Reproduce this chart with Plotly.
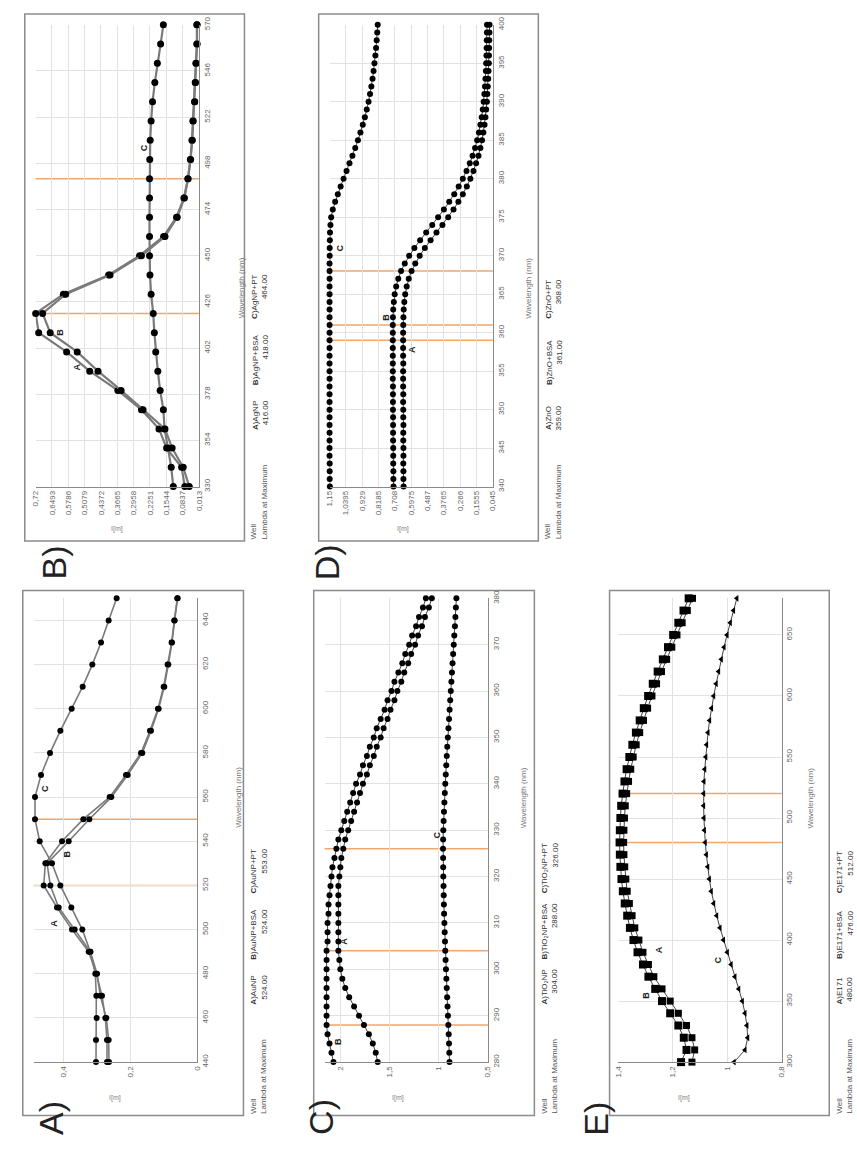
import plotly.graph_objects as go

W, H = 857, 1166

# ---------------- DATA ----------------
# Panel A : AuNP
wl_A = [440, 450, 460, 470, 480, 490, 500, 510, 520, 530, 540, 550, 560, 570, 580, 590, 600, 610, 620, 630, 640, 650]
A_AuNP = [0.270, 0.270, 0.275, 0.285, 0.302, 0.325, 0.375, 0.420, 0.460, 0.455, 0.405, 0.341, 0.262, 0.213, 0.168, 0.141, 0.117, 0.100, 0.088, 0.076, 0.068, 0.059]
B_AuNP_BSA = [0.264, 0.265, 0.272, 0.290, 0.300, 0.320, 0.367, 0.415, 0.440, 0.450, 0.385, 0.323, 0.257, 0.208, 0.164, 0.138, 0.115, 0.098, 0.086, 0.075, 0.067, 0.058]
C_AuNP_PT = [0.303, 0.303, 0.301, 0.302, 0.305, 0.320, 0.344, 0.377, 0.410, 0.435, 0.472, 0.486, 0.486, 0.468, 0.441, 0.410, 0.376, 0.343, 0.314, 0.288, 0.265, 0.241]
lines_A = [520, 550]
legend_A = ["<b>A</b>)AuNP<br>524.00", "<b>B</b>)AuNP+BSA<br>524.00", "<b>C</b>)AuNP+PT<br>553.00"]

# Panel B : AgNP
wl_B = [330, 340, 350, 360, 370, 380, 390, 400, 410, 420, 430, 440, 450, 460, 470, 480, 490, 500, 510, 520, 530, 540, 550, 560, 570]
A_AgNP = [0.074, 0.088, 0.153, 0.186, 0.262, 0.364, 0.486, 0.586, 0.707, 0.720, 0.600, 0.404, 0.270, 0.166, 0.110, 0.078, 0.061, 0.050, 0.043, 0.039, 0.032, 0.029, 0.026, 0.022, 0.022]
B_AgNP_BSA = [0.055, 0.081, 0.129, 0.160, 0.255, 0.350, 0.450, 0.540, 0.657, 0.690, 0.590, 0.398, 0.262, 0.160, 0.107, 0.076, 0.060, 0.049, 0.042, 0.038, 0.031, 0.028, 0.025, 0.021, 0.021]
C_AgNP_PT = [0.124, 0.133, 0.147, 0.162, 0.167, 0.181, 0.191, 0.200, 0.206, 0.211, 0.220, 0.225, 0.227, 0.227, 0.227, 0.227, 0.227, 0.226, 0.224, 0.220, 0.214, 0.204, 0.193, 0.179, 0.167]
lines_B = [420, 490]
legend_B = ["<b>A</b>)AgNP<br>416.00", "<b>B</b>)AgNP+BSA<br>418.00", "<b>C</b>)AgNP+PT<br>464.00"]

# Panel C : TiO2NP
wl_C = [280, 282, 284, 286, 288, 290, 292, 294, 296, 298, 300, 302, 304, 306, 308, 310, 312, 314, 316, 318, 320,
        322, 324, 326, 328, 330, 332, 334, 336, 338, 340, 342, 344, 346, 348, 350, 352, 354, 356, 358, 360,
        362, 364, 366, 368, 370, 372, 374, 376, 378, 380]
A_TiO2NP = [1.62, 1.64, 1.67, 1.71, 1.76, 1.81, 1.86, 1.91, 1.95, 1.98, 2.00, 2.01, 2.02, 2.02, 2.02, 2.02, 2.02, 2.02, 2.02, 2.02, 2.01,
            2.00, 1.99, 1.97, 1.95, 1.92, 1.89, 1.86, 1.83, 1.80, 1.77, 1.73, 1.70, 1.66, 1.63, 1.59, 1.56, 1.52, 1.49, 1.45, 1.42,
            1.38, 1.35, 1.31, 1.28, 1.24, 1.21, 1.17, 1.14, 1.10, 1.07]
B_TiO2NP_BSA = [2.07, 2.09, 2.11, 2.13, 2.14, 2.14, 2.14, 2.14, 2.14, 2.14, 2.14, 2.14, 2.14, 2.13, 2.13, 2.13, 2.12, 2.12, 2.11, 2.10, 2.09,
                2.08, 2.06, 2.04, 2.02, 1.99, 1.96, 1.93, 1.90, 1.87, 1.84, 1.80, 1.77, 1.73, 1.70, 1.66, 1.63, 1.59, 1.55, 1.52, 1.48,
                1.45, 1.41, 1.37, 1.34, 1.30, 1.27, 1.23, 1.20, 1.16, 1.13]
C_TiO2NP_PT = [0.890, 0.892, 0.895, 0.898, 0.902, 0.906, 0.910, 0.914, 0.918, 0.922, 0.926, 0.930, 0.933, 0.936, 0.939, 0.942, 0.945, 0.947, 0.949, 0.951, 0.953,
               0.954, 0.955, 0.956, 0.955, 0.953, 0.950, 0.946, 0.942, 0.938, 0.933, 0.928, 0.923, 0.918, 0.913, 0.907, 0.901, 0.895, 0.889, 0.883, 0.877,
               0.871, 0.865, 0.859, 0.853, 0.847, 0.841, 0.835, 0.830, 0.825, 0.820]
lines_C = [288, 304, 326]
legend_C = ["<b>A</b>)TiO\u2082NP<br>304.00", "<b>B</b>)TiO\u2082NP+BSA<br>288.00", "<b>C</b>)TiO\u2082NP+PT<br>326.00"]

# Panel D : ZnO
wl_D = [340, 341, 342, 343, 344, 345, 346, 347, 348, 349, 350, 351, 352, 353, 354, 355, 356, 357, 358, 359, 360,
        361, 362, 363, 364, 365, 366, 367, 368, 369, 370, 371, 372, 373, 374, 375, 376, 377, 378, 379, 380,
        381, 382, 383, 384, 385, 386, 387, 388, 389, 390, 391, 392, 393, 394, 395, 396, 397, 398, 399, 400]
A_ZnO = [0.649, 0.650, 0.650, 0.651, 0.650, 0.650, 0.651, 0.651, 0.650, 0.651, 0.651, 0.652, 0.651, 0.652, 0.652, 0.652, 0.651, 0.652, 0.652, 0.652, 0.652,
         0.651, 0.650, 0.648, 0.644, 0.638, 0.628, 0.614, 0.595, 0.570, 0.540, 0.505, 0.466, 0.426, 0.386, 0.347, 0.311, 0.278, 0.248, 0.221, 0.197,
         0.176, 0.158, 0.142, 0.129, 0.118, 0.109, 0.101, 0.095, 0.090, 0.085, 0.082, 0.079, 0.076, 0.074, 0.072, 0.071, 0.070, 0.069, 0.068, 0.067]
B_ZnO_BSA = [0.717, 0.718, 0.718, 0.719, 0.719, 0.719, 0.720, 0.720, 0.720, 0.720, 0.721, 0.721, 0.721, 0.721, 0.722, 0.722, 0.722, 0.722, 0.722, 0.722, 0.722,
             0.722, 0.721, 0.719, 0.715, 0.709, 0.699, 0.685, 0.666, 0.641, 0.611, 0.576, 0.537, 0.496, 0.455, 0.415, 0.376, 0.340, 0.306, 0.276, 0.248,
             0.223, 0.201, 0.182, 0.165, 0.151, 0.139, 0.129, 0.120, 0.113, 0.107, 0.102, 0.098, 0.095, 0.092, 0.090, 0.088, 0.087, 0.086, 0.085, 0.084]
C_ZnO_PT = [1.148, 1.149, 1.149, 1.149, 1.150, 1.150, 1.150, 1.150, 1.150, 1.150, 1.150, 1.150, 1.150, 1.150, 1.150, 1.150, 1.150, 1.150, 1.150, 1.150, 1.150,
            1.150, 1.150, 1.150, 1.150, 1.150, 1.150, 1.150, 1.150, 1.150, 1.149, 1.149, 1.148, 1.147, 1.144, 1.139, 1.128, 1.112, 1.094, 1.075, 1.055,
            1.035, 1.015, 0.995, 0.976, 0.958, 0.941, 0.925, 0.911, 0.898, 0.886, 0.876, 0.867, 0.859, 0.852, 0.846, 0.840, 0.835, 0.831, 0.827, 0.824]
lines_D = [359, 361, 368]
legend_D = ["<b>A</b>)ZnO<br>359.00", "<b>B</b>)ZnO+BSA<br>361.00", "<b>C</b>)ZnO+PT<br>368.00"]

# Panel E : E171
wl_E = [300, 310, 320, 330, 340, 350, 360, 370, 380, 390, 400, 410, 420, 430, 440, 450, 460, 470, 480, 490,
        500, 510, 520, 530, 540, 550, 560, 570, 580, 590, 600, 610, 620, 630, 640, 650, 660, 670, 680]
A_E171 = [1.130, 1.120, 1.130, 1.150, 1.180, 1.210, 1.240, 1.270, 1.290, 1.310, 1.325, 1.340, 1.350, 1.360, 1.368, 1.373, 1.377, 1.380, 1.381, 1.380,
          1.378, 1.375, 1.370, 1.363, 1.355, 1.346, 1.335, 1.322, 1.308, 1.293, 1.277, 1.260, 1.242, 1.223, 1.204, 1.185, 1.166, 1.147, 1.128]
B_E171_BSA = [1.170, 1.150, 1.160, 1.180, 1.210, 1.240, 1.265, 1.290, 1.310, 1.330, 1.345, 1.358, 1.368, 1.377, 1.384, 1.389, 1.393, 1.395, 1.396, 1.395,
              1.393, 1.390, 1.385, 1.378, 1.370, 1.360, 1.349, 1.336, 1.322, 1.307, 1.291, 1.274, 1.256, 1.237, 1.218, 1.199, 1.180, 1.161, 1.142]
C_E171_PT = [0.975, 0.935, 0.925, 0.928, 0.935, 0.945, 0.958, 0.972, 0.986, 1.000, 1.014, 1.027, 1.039, 1.050, 1.059, 1.066, 1.072, 1.077, 1.081, 1.084,
             1.086, 1.087, 1.087, 1.086, 1.083, 1.079, 1.076, 1.071, 1.065, 1.058, 1.050, 1.041, 1.032, 1.022, 1.012, 1.001, 0.989, 0.977, 0.965]
lines_E = [480, 520]
legend_E = ["<b>A</b>)E171<br>480.00", "<b>B</b>)E171+BSA<br>476.00", "<b>C</b>)E171+PT<br>512.00"]

# axis ticks
ab_ticks_B = [0.013, 0.0837, 0.1544, 0.2251, 0.2958, 0.3665, 0.4372, 0.5079, 0.5786, 0.6493, 0.72]
ab_text_B = ["0,013", "0,0837", "0,1544", "0,2251", "0,2958", "0,3665", "0,4372", "0,5079", "0,5786", "0,6493", "0,72"]
wl_ticks_B = [330, 354, 378, 402, 426, 450, 474, 498, 522, 546, 570]
ab_ticks_D = [0.045, 0.1555, 0.266, 0.3765, 0.487, 0.5975, 0.708, 0.8185, 0.929, 1.0395, 1.15]
ab_text_D = ["0,045", "0,1555", "0,266", "0,3765", "0,487", "0,5975", "0,708", "0,8185", "0,929", "1,0395", "1,15"]
wl_ticks_D = [340, 345, 350, 355, 360, 365, 370, 375, 380, 385, 390, 395, 400]
ab_ticks_A = [0, 0.2, 0.4]
ab_text_A = ["0", "0,2", "0,4"]
wl_ticks_A = [440, 460, 480, 500, 520, 540, 560, 580, 600, 620, 640]
ab_ticks_C = [0.5, 1, 1.5, 2]
ab_text_C = ["0,5", "1", "1,5", "2"]
wl_ticks_C = [280, 290, 300, 310, 320, 330, 340, 350, 360, 370, 380]
ab_ticks_E = [0.8, 1.0, 1.2, 1.4]
ab_text_E = ["0,8", "1", "1,2", "1,4"]
wl_ticks_E = [300, 350, 400, 450, 500, 550, 600, 650]

# ---------------- LAYOUT / STYLE ----------------
FONT = "Liberation Sans"
GRID = "#e2e2e2"
AXLINE = "#8a8a8a"
TICKC = "#666666"
ORANGE = "#f2a66a"

panels = [
    dict(n=1, letter="B)", box=(21, 6, 243, 539), plot=(32, 17, 197, 484),
         wl=wl_B, series=[A_AgNP, B_AgNP_BSA, C_AgNP_PT], wl_range=(330, 570), ab_range=(0.013, 0.72),
         ab_ticks=ab_ticks_B, ab_text=ab_text_B, wl_ticks=wl_ticks_B, lines=lines_B, legend=legend_B,
         symbols=["circle"] * 3, msize=[7, 7, 7], lcolor="#7a7a7a", lwidth=2.2,
         labels=[("A", 392, 0.54), ("B", 410, 0.614), ("C", 506, 0.25)]),
    dict(n=2, letter="D)", box=(318, 6, 540, 539), plot=(329, 17, 494, 484),
         wl=wl_D, series=[A_ZnO, B_ZnO_BSA, C_ZnO_PT], wl_range=(340, 400), ab_range=(0.045, 1.15),
         ab_ticks=ab_ticks_D, ab_text=ab_text_D, wl_ticks=wl_ticks_D, lines=lines_D, legend=legend_D,
         symbols=["circle"] * 3, msize=[6, 6, 6], lcolor="#444444", lwidth=1,
         labels=[("A", 357.8, 0.596), ("B", 362, 0.764), ("C", 371, 1.076)]),
    dict(n=3, letter="A)", box=(19, 589, 242, 1120), plot=(30, 597, 195, 1066),
         wl=wl_A, series=[A_AuNP, B_AuNP_BSA, C_AuNP_PT], wl_range=(440, 650), ab_range=(0.0, 0.49),
         ab_ticks=ab_ticks_A, ab_text=ab_text_A, wl_ticks=wl_ticks_A, lines=lines_A, legend=legend_A,
         symbols=["circle"] * 3, msize=[6, 6, 6], lcolor="#7a7a7a", lwidth=1.6,
         labels=[("A", 503, 0.43), ("B", 534, 0.39), ("C", 564, 0.454)]),
    dict(n=4, letter="C)", box=(313, 589, 536, 1120), plot=(324, 597, 489, 1066),
         wl=wl_C, series=[A_TiO2NP, B_TiO2NP_BSA, C_TiO2NP_PT], wl_range=(280, 380), ab_range=(0.5, 2.16),
         ab_ticks=ab_ticks_C, ab_text=ab_text_C, wl_ticks=wl_ticks_C, lines=lines_C, legend=legend_C,
         symbols=["circle"] * 3, msize=[6, 6, 6], lcolor="#444444", lwidth=1,
         labels=[("A", 306, 1.97), ("B", 284.4, 2.03), ("C", 329, 1.02)]),
    dict(n=5, letter="E)", box=(612, 589, 834, 1120), plot=(621, 597, 786, 1066),
         wl=wl_E, series=[A_E171, B_E171_BSA, C_E171_PT], wl_range=(300, 680), ab_range=(0.8, 1.4),
         ab_ticks=ab_ticks_E, ab_text=ab_text_E, wl_ticks=wl_ticks_E, lines=lines_E, legend=legend_E,
         symbols=["square", "square", "triangle-left"], msize=[7, 8, 6], lcolor="#444444", lwidth=1,
         labels=[("A", 392, 1.25), ("B", 355, 1.30), ("C", 384, 1.035)]),
]

fig = go.Figure()
shapes = []
annotations = []


def px(x):
    return x / W


def py(y):
    return 1 - y / H


for p in panels:
    n = p["n"]
    xs = "" if n == 1 else str(n)
    xref, yref = "x" + xs, "y" + xs
    x0, y0, x1, y1 = p["plot"]
    bx0, by0, bx1, by1 = p["box"]

    for ser, sym, ms in zip(p["series"], p["symbols"], p["msize"]):
        fig.add_trace(go.Scatter(
            x=ser, y=p["wl"], xaxis=xref, yaxis=yref, mode="lines+markers",
            line=dict(color=p["lcolor"], width=p["lwidth"]),
            marker=dict(color="black", size=ms, symbol=sym),
            cliponaxis=False, showlegend=False, hoverinfo="skip"))

    fig.layout["xaxis" + xs] = dict(
        domain=[px(x0), px(x1)], range=[p["ab_range"][1], p["ab_range"][0]], anchor=yref,
        tickmode="array", tickvals=p["ab_ticks"], ticktext=p["ab_text"], tickangle=-90,
        tickfont=dict(family=FONT, size=8, color=TICKC), ticks="", showgrid=True, gridcolor=GRID,
        gridwidth=1, zeroline=False, showline=True, linecolor=AXLINE, linewidth=1.2, fixedrange=True)
    fig.layout["yaxis" + xs] = dict(
        domain=[py(y1), py(y0)], range=list(p["wl_range"]), anchor=xref, side="right",
        tickmode="array", tickvals=p["wl_ticks"], tickangle=-90,
        tickfont=dict(family=FONT, size=8, color=TICKC), ticks="", showgrid=True, gridcolor=GRID,
        gridwidth=1, zeroline=False, showline=True, linecolor=AXLINE, linewidth=1.2, fixedrange=True)

    # lambda max markers (orange)
    for lw in p["lines"]:
        shapes.append(dict(type="line", xref=xref + " domain", yref=yref, x0=0, x1=1, y0=lw, y1=lw,
                           line=dict(color=ORANGE, width=1.5), layer="below"))

    # panel frame
    shapes.append(dict(type="rect", xref="paper", yref="paper", x0=px(bx0), x1=px(bx1), y0=py(by1), y1=py(by0),
                       line=dict(color="#8c8c8c", width=1.5), fillcolor="rgba(0,0,0,0)", layer="below"))

    # curve labels
    for txt, wlv, abv in p["labels"]:
        annotations.append(dict(text="<b>" + txt + "</b>", x=abv, y=wlv, xref=xref, yref=yref, showarrow=False,
                                textangle=-90, font=dict(family=FONT, size=9, color="#222")))

    # axis titles
    annotations.append(dict(text="Wavelength (nm)", x=px(x1 + 36), y=py((y0 + y1) / 2), xref="paper", yref="paper",
                            showarrow=False, textangle=-90, font=dict(family=FONT, size=8, color="#777")))
    annotations.append(dict(text="I[m]", x=px((x0 + x1) / 2 - 8), y=py(by1 - 12), xref="paper", yref="paper",
                            showarrow=False, font=dict(family=FONT, size=7, color="#808080")))

    # legend texts outside frame
    annotations.append(dict(text="Well<br>Lambda at Maximum", x=px(bx1 + 3), y=py(by1), xref="paper", yref="paper",
                            xanchor="left", yanchor="bottom", align="left", showarrow=False, textangle=-90,
                            font=dict(family=FONT, size=8, color="#555")))
    for off, txt in zip([110, 156, 223], p["legend"]):
        annotations.append(dict(text=txt, x=px(bx1 + 4), y=py(by1 - off), xref="paper", yref="paper",
                                xanchor="left", yanchor="bottom", align="right", showarrow=False, textangle=-90,
                                font=dict(family=FONT, size=8, color="#333")))

    # panel letter
    annotations.append(dict(text=p["letter"], x=px(bx0 + 8), y=py(by1 + 22), xref="paper", yref="paper",
                            showarrow=False, textangle=-90, font=dict(family=FONT, size=34, color="#222")))

fig.update_layout(width=W, height=H, margin=dict(l=0, r=0, t=0, b=0), paper_bgcolor="white",
                  plot_bgcolor="white", shapes=shapes, annotations=annotations, showlegend=False)

fig.write_html("out.html")
